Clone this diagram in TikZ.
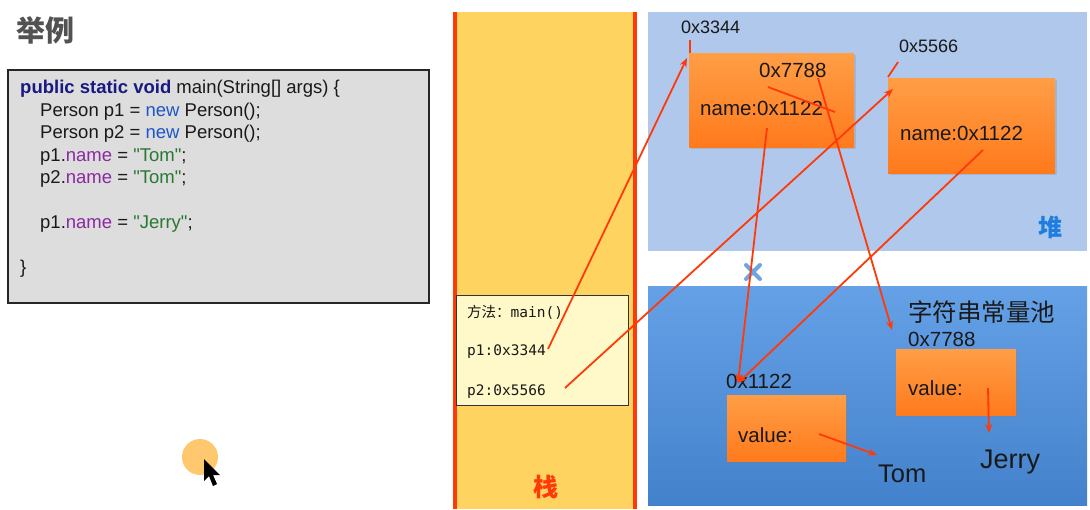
\documentclass[tikz,border=0pt]{standalone}
\usepackage{fontspec}
\setmainfont{Liberation Sans}
\setmonofont{DejaVu Sans Mono}
\newfontfamily\cjk{Noto Sans CJK SC}
\newfontfamily\codefont{Liberation Sans}[Ligatures=ResetAll]
\usetikzlibrary{arrows.meta,calc,positioning,shadows}

\definecolor{stackfill}{RGB}{255,211,95}
\definecolor{refred}{RGB}{255,58,10}
\definecolor{heapfill}{RGB}{175,200,235}
\definecolor{poolfill}{RGB}{74,144,226}
\definecolor{objtop}{RGB}{255,158,70}
\definecolor{objbot}{RGB}{255,122,28}
\definecolor{framefill}{RGB}{255,248,200}
\definecolor{codefill}{RGB}{221,221,221}
\definecolor{kwnavy}{RGB}{25,25,130}
\definecolor{kwblue}{RGB}{30,85,200}
\definecolor{fieldpurple}{RGB}{140,40,160}
\definecolor{strgreen}{RGB}{40,120,50}
\definecolor{heapblue}{RGB}{30,125,225}
\definecolor{crossblue}{RGB}{110,165,225}
\definecolor{inkgray}{RGB}{25,25,25}
\definecolor{cursorglow}{RGB}{255,200,110}

\begin{document}
\begin{tikzpicture}[
    x=1pt, y=-1pt,
    ref/.style={refred, line width=1.8pt, -{Stealth[length=9pt,width=7pt]}},
    stroke/.style={refred, line width=1.8pt},
    objbox/.style={top color=objtop, bottom color=objbot, draw=none,
        drop shadow={opacity=0.25, shadow xshift=1.5pt, shadow yshift=-2pt}},
    codeline/.style={anchor=base west, inner sep=0pt, text=inkgray, font=\codefont\fontsize{18.5}{22}\selectfont},
    monoline/.style={anchor=base west, inner sep=0pt, text=inkgray, font=\ttfamily\fontsize{14.5}{17}\selectfont},
    addr/.style={anchor=base west, inner sep=0pt, text=inkgray, font=\fontsize{18}{21}\selectfont},
    field/.style={anchor=base west, inner sep=0pt, text=inkgray, font=\fontsize{20.5}{24}\selectfont},
    strval/.style={anchor=base west, inner sep=0pt, text=black!90, font=\fontsize{25.5}{30}\selectfont}
]
\useasboundingbox (0,0) rectangle (1090,509);
\fill[white] (0,0) rectangle (1090,509);

% title and code
\node[anchor=west, inner sep=0pt, text=black!68, font=\cjk\bfseries\fontsize{29}{32}\selectfont] (title) at (16,30) {举例};
\draw[fill=codefill, draw=black!85, line width=1.5pt] (8,70) rectangle (429,303);
\node[codeline] (code1) at (20,93) {\textcolor{kwnavy}{\bfseries public static void} main(String[] args) \{};
\node[codeline] (code2) at (40,116) {Person p1 = \textcolor{kwblue}{new} Person();};
\node[codeline] (code3) at (40,138.5) {Person p2 = \textcolor{kwblue}{new} Person();};
\node[codeline] (code4) at (40,161) {p1.\textcolor{fieldpurple}{name} = \textcolor{strgreen}{"Tom"};};
\node[codeline] (code5) at (40,183.5) {p2.\textcolor{fieldpurple}{name} = \textcolor{strgreen}{"Tom"};};
\node[codeline] (code6) at (40,228.5) {p1.\textcolor{fieldpurple}{name} = \textcolor{strgreen}{"Jerry"};};
\node[codeline] (code7) at (20,273) {\}};

% cursor
\fill[cursorglow] (200,457) circle (18);
\fill[black] (204,459) -- (204,481) -- (209,476) -- (213,486) -- (217,484) -- (213,475) -- (220,475) -- cycle;

% stack
\fill[stackfill] (455,12) rectangle (635,509);
\draw[refred, line width=4pt] (455,12) -- (455,509);
\draw[refred, line width=4pt] (635,12) -- (635,509);
\node[font=\cjk\bfseries\fontsize{25}{28}\selectfont, text=refred] (stacklbl) at (546,487) {栈};
\node[draw=black!80, fill=framefill, line width=1pt, minimum width=172pt, minimum height=110pt] (frame) at (542,350) {};
\node[monoline] (method) at (467,317) {{\cjk 方法：}main()};
\node[monoline] (p1) at (467,355) {p1:0x3344};
\node[monoline] (p2) at (467,395) {p2:0x5566};

% heap
\fill[heapfill] (648,12) rectangle (1087,251);
\node[font=\cjk\bfseries\fontsize{24}{27}\selectfont, text=heapblue] (heaplbl) at (1050,227) {堆};
\node[objbox, minimum width=165pt, minimum height=94pt] (obj1) at (771.5,100) {};
\node[objbox, minimum width=167pt, minimum height=95pt] (obj2) at (971.5,125.5) {};
\node[addr] (a3344) at (681,33) {0x3344};
\node[addr] (a5566) at (899,52) {0x5566};
\node[field] (a7788in) at (759,77) {0x7788};
\node[field] (name1) at (700,115) {name:0x1122};
\node[field] (name2) at (900,140) {name:0x1122};

% string pool
\shade[top color=poolfill!85!white, bottom color=poolfill!90!black] (648,286) rectangle (1087,505);
\node[anchor=west, inner sep=0pt, text=inkgray, font=\cjk\fontsize{24.5}{28}\selectfont] (poollbl) at (908,312) {字符串常量池};
\node[objbox, minimum width=119pt, minimum height=66pt] (str1) at (786.5,428) {};
\node[objbox, minimum width=120pt, minimum height=66pt] (str2) at (956,382) {};
\node[field] (a1122) at (726,388) {0x1122};
\node[field] (a7788) at (908,346) {0x7788};
\node[field] (val1) at (738,442) {value:};
\node[field] (val2) at (908,395) {value:};
\node[strval] (tom) at (878,482) {Tom};
\node[strval, font=\fontsize{27}{31}\selectfont] (jerry) at (980,468) {Jerry};

% removed reference mark
\draw[crossblue, line width=4pt, line cap=round] (746,265) -- (760,279);
\draw[crossblue, line width=4pt, line cap=round] (746,279) -- (760,265);

% references
\coordinate (p1end) at (548,349);
\coordinate (p2end) at (565,388);
\coordinate (obj1tip) at (687,58);
\coordinate (obj2tip) at (893,89);
\coordinate (name1end) at (767,128);
\coordinate (name2end) at (983,150);
\coordinate (in7788) at (818,78);
\coordinate (str1tip) at (738,383);
\coordinate (str2tip) at (892,330);
\coordinate (val1end) at (819,434);
\coordinate (val2end) at (988,388);
\coordinate (tomtip) at (877,455);
\coordinate (jerrytip) at (989,433);

\draw[stroke] (690,40) -- (690,53);
\draw[stroke] (898,62) -- (888,77);
\draw[stroke] (768,87) -- (835,112);
\draw[ref] (p1end) -- (obj1tip);
\draw[ref] (p2end) -- (obj2tip);
\draw[ref] (name1end) -- (str1tip);
\draw[ref] (name2end) -- (str1tip);
\draw[ref] (in7788) -- (str2tip);
\draw[ref] (val1end) -- (tomtip);
\draw[ref] (val2end) -- (jerrytip);
\end{tikzpicture}
\end{document}
